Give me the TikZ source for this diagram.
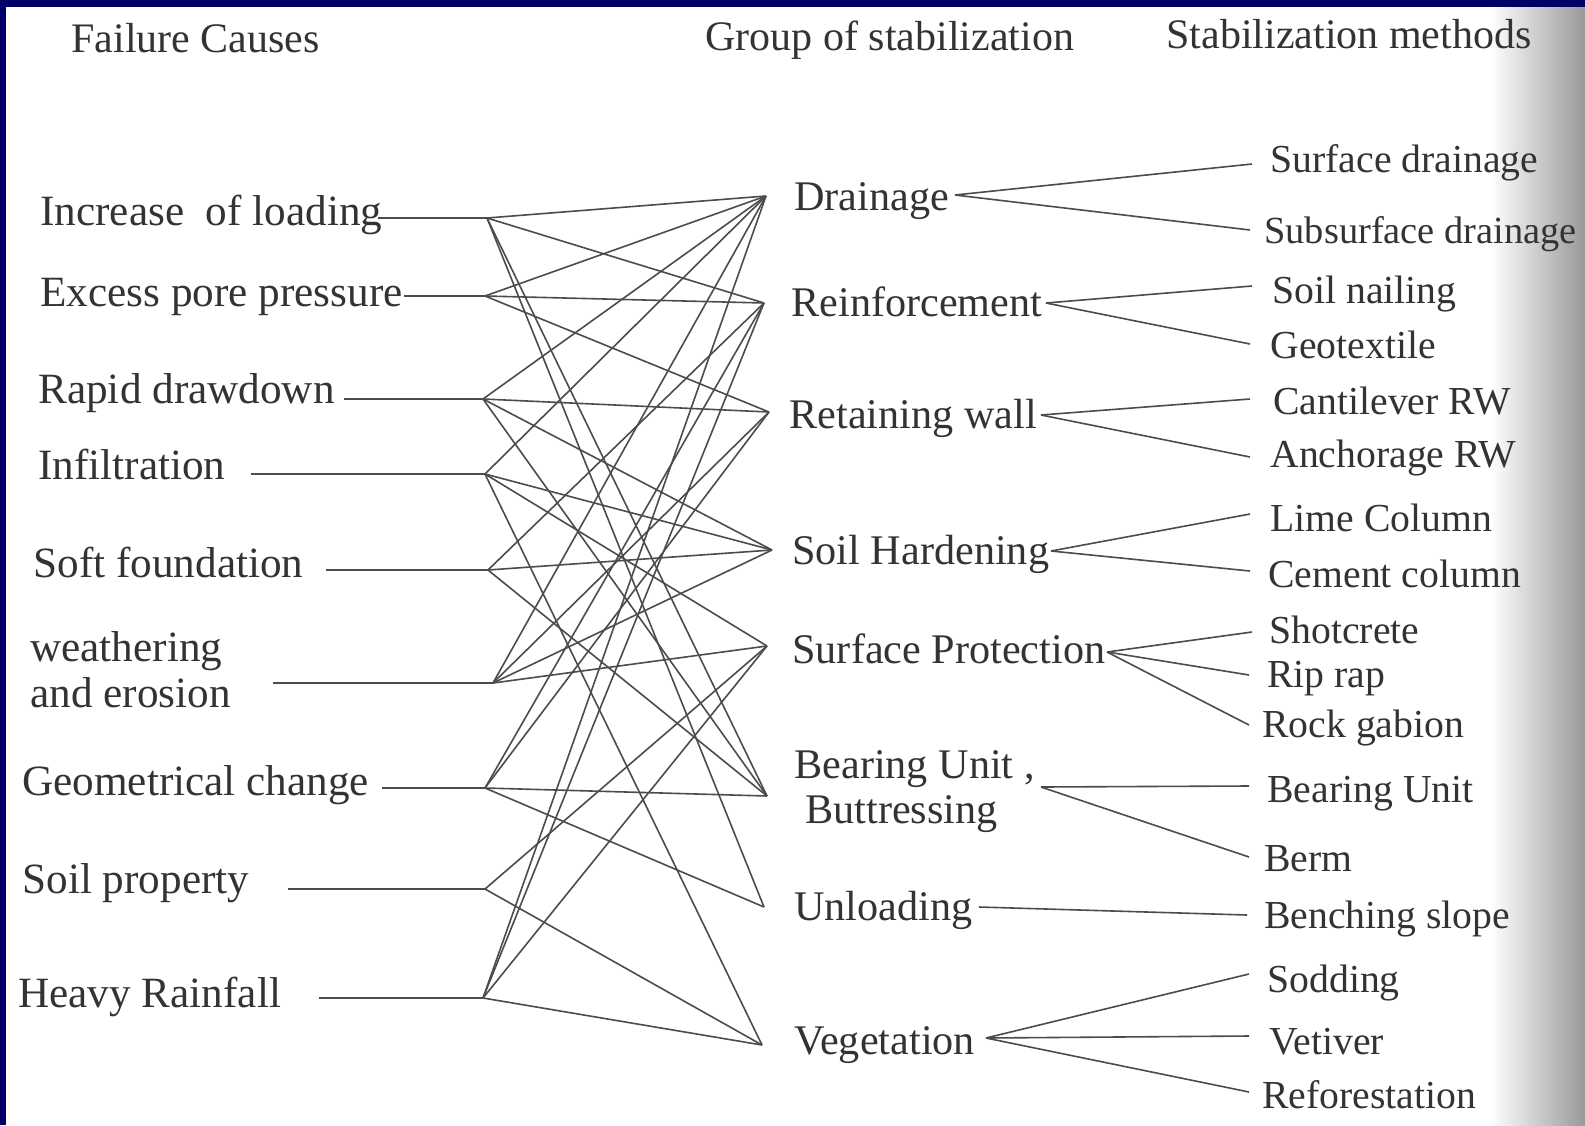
\documentclass[tikz,border=0pt]{standalone}
\usepackage{fontspec}
\setmainfont{Liberation Serif}
\usetikzlibrary{positioning}
\definecolor{frameblue}{HTML}{000066}
\definecolor{ink}{HTML}{333333}
\tikzset{
    head/.style={anchor=base west, inner sep=0pt, text=ink, font=\fontsize{21}{25}\selectfont},
    cause/.style={anchor=base west, inner sep=0pt, text=ink, font=\fontsize{21.6}{26}\selectfont},
    group/.style={anchor=base west, inner sep=0pt, text=ink, font=\fontsize{21.1}{25}\selectfont},
    method/.style={anchor=base west, inner sep=0pt, text=ink, font=\fontsize{19.85}{24}\selectfont},
    link/.style={draw=black!70, line width=0.8pt},
}
\begin{document}
\begin{tikzpicture}[x=0.5pt, y=-0.5pt]
    % frame and page shadow
    \fill[frameblue] (0,0) rectangle (1585,1125);
    \fill[white] (6,7) rectangle (1585,1125);
    \shade[left color=white, right color=black!40] (1490,7) rectangle (1585,1125);
    \useasboundingbox (0,0) rectangle (1585,1125);

    % headings
    \node [head] (hcause) at (71,52) {Failure Causes};
    \node [head] (hgroup) at (705,50) {Group of stabilization};
    \node [head] (hmethod) at (1166,48) {Stabilization methods};

    % failure causes
    \node [cause] (load) at (40,225) {Increase\ \ of loading};
    \node [cause] (pore) at (40,306) {Excess pore pressure};
    \node [cause] (drawdown) at (38,403) {Rapid drawdown};
    \node [cause] (infilt) at (38,479) {Infiltration};
    \node [cause] (softfdn) at (33,577) {Soft foundation};
    \node [cause] (weather) at (30,661) {weathering};
    \node [cause] (erosion) at (30,707) {and erosion};
    \node [cause] (geom) at (22,795) {Geometrical change};
    \node [cause] (soilprop) at (22,893) {Soil property};
    \node [cause] (rain) at (18,1007) {Heavy Rainfall};

    \coordinate (load-s) at (378,218);   \coordinate (load-j) at (487,218);
    \coordinate (pore-s) at (404,296);   \coordinate (pore-j) at (485,296);
    \coordinate (drawdown-s) at (344,399); \coordinate (drawdown-j) at (483,399);
    \coordinate (infilt-s) at (251,474); \coordinate (infilt-j) at (485,474);
    \coordinate (softfdn-s) at (326,570); \coordinate (softfdn-j) at (488,570);
    \coordinate (weather-s) at (273,683); \coordinate (weather-j) at (493,683);
    \coordinate (geom-s) at (382,788);   \coordinate (geom-j) at (485,788);
    \coordinate (soilprop-s) at (288,889); \coordinate (soilprop-j) at (485,889);
    \coordinate (rain-s) at (319,998);   \coordinate (rain-j) at (483,998);

    % groups of stabilization
    \node [group] (drain) at (794,210) {Drainage};
    \node [group] (reinf) at (791,316) {Reinforcement};
    \node [group] (wall) at (789,428) {Retaining wall};
    \node [group] (harden) at (792,564) {Soil Hardening};
    \node [group] (protect) at (792,663) {Surface Protection};
    \node [group] (bearing) at (794,778) {Bearing Unit ,};
    \node [group] (buttress) at (805,823) {Buttressing};
    \node [group] (unload) at (794,920) {Unloading};
    \node [group] (veget) at (794,1054) {Vegetation};

    \coordinate (drain-l) at (766,196);   \coordinate (drain-r) at (955,195);
    \coordinate (reinf-l) at (764,303);   \coordinate (reinf-r) at (1046,303);
    \coordinate (wall-l) at (769,412);    \coordinate (wall-r) at (1041,415);
    \coordinate (harden-l) at (772,550);  \coordinate (harden-r) at (1051,551);
    \coordinate (protect-l) at (767,646); \coordinate (protect-r) at (1107,652);
    \coordinate (bearing-l) at (767,796); \coordinate (bearing-r) at (1041,787);
    \coordinate (unload-l) at (764,907);  \coordinate (unload-r) at (979,907);
    \coordinate (veget-l) at (762,1045);  \coordinate (veget-r) at (986,1038);

    % stabilization methods
    \node [method] (surfdr) at (1270,172) {Surface drainage};
    \node [method, font=\fontsize{19.2}{24}\selectfont] (subdr) at (1264,243) {Subsurface drainage};
    \node [method] (nail) at (1272,303) {Soil nailing};
    \node [method] (geotex) at (1270,358) {Geotextile};
    \node [method] (cantrw) at (1273,414) {Cantilever RW};
    \node [method] (anchrw) at (1270,467) {Anchorage RW};
    \node [method] (lime) at (1270,531) {Lime Column};
    \node [method] (cement) at (1268,587) {Cement column};
    \node [method] (shot) at (1269,643) {Shotcrete};
    \node [method] (riprap) at (1267,687) {Rip rap};
    \node [method] (gabion) at (1262,737) {Rock gabion};
    \node [method] (bunit) at (1267,802) {Bearing Unit};
    \node [method] (berm) at (1264,871) {Berm};
    \node [method] (bench) at (1264,928) {Benching slope};
    \node [method] (sod) at (1267,992) {Sodding};
    \node [method] (vetiver) at (1269,1054) {Vetiver};
    \node [method] (refor) at (1262,1108) {Reforestation};

    \coordinate (surfdr-w) at (1252,164);
    \coordinate (subdr-w) at (1250,230);
    \coordinate (nail-w) at (1252,286);
    \coordinate (geotex-w) at (1250,344);
    \coordinate (cantrw-w) at (1250,399);
    \coordinate (anchrw-w) at (1250,457);
    \coordinate (lime-w) at (1250,514);
    \coordinate (cement-w) at (1250,571);
    \coordinate (shot-w) at (1252,632);
    \coordinate (riprap-w) at (1249,675);
    \coordinate (gabion-w) at (1249,725);
    \coordinate (bunit-w) at (1249,786);
    \coordinate (berm-w) at (1249,857);
    \coordinate (bench-w) at (1247,915);
    \coordinate (sod-w) at (1249,974);
    \coordinate (vetiver-w) at (1249,1036);
    \coordinate (refor-w) at (1249,1092);

    % stubs
    \draw[link] (load-s) -- (load-j);
    \draw[link] (pore-s) -- (pore-j);
    \draw[link] (drawdown-s) -- (drawdown-j);
    \draw[link] (infilt-s) -- (infilt-j);
    \draw[link] (softfdn-s) -- (softfdn-j);
    \draw[link] (weather-s) -- (weather-j);
    \draw[link] (geom-s) -- (geom-j);
    \draw[link] (soilprop-s) -- (soilprop-j);
    \draw[link] (rain-s) -- (rain-j);

    % causes to groups
    \draw[link] (load-j) -- (drain-l);
    \draw[link] (load-j) -- (reinf-l);
    \draw[link] (load-j) -- (bearing-l);
    \draw[link] (load-j) -- (unload-l);
    \draw[link] (pore-j) -- (drain-l);
    \draw[link] (pore-j) -- (reinf-l);
    \draw[link] (pore-j) -- (wall-l);
    \draw[link] (drawdown-j) -- (drain-l);
    \draw[link] (drawdown-j) -- (wall-l);
    \draw[link] (drawdown-j) -- (harden-l);
    \draw[link] (drawdown-j) -- (bearing-l);
    \draw[link] (infilt-j) -- (drain-l);
    \draw[link] (infilt-j) -- (harden-l);
    \draw[link] (infilt-j) -- (protect-l);
    \draw[link] (infilt-j) -- (veget-l);
    \draw[link] (softfdn-j) -- (reinf-l);
    \draw[link] (softfdn-j) -- (harden-l);
    \draw[link] (softfdn-j) -- (bearing-l);
    \draw[link] (weather-j) -- (drain-l);
    \draw[link] (weather-j) -- (wall-l);
    \draw[link] (weather-j) -- (harden-l);
    \draw[link] (weather-j) -- (protect-l);
    \draw[link] (geom-j) -- (reinf-l);
    \draw[link] (geom-j) -- (wall-l);
    \draw[link] (geom-j) -- (bearing-l);
    \draw[link] (geom-j) -- (unload-l);
    \draw[link] (soilprop-j) -- (protect-l);
    \draw[link] (soilprop-j) -- (veget-l);
    \draw[link] (rain-j) -- (drain-l);
    \draw[link] (rain-j) -- (reinf-l);
    \draw[link] (rain-j) -- (protect-l);
    \draw[link] (rain-j) -- (veget-l);

    % groups to methods
    \draw[link] (drain-r) -- (surfdr-w);
    \draw[link] (drain-r) -- (subdr-w);
    \draw[link] (reinf-r) -- (nail-w);
    \draw[link] (reinf-r) -- (geotex-w);
    \draw[link] (wall-r) -- (cantrw-w);
    \draw[link] (wall-r) -- (anchrw-w);
    \draw[link] (harden-r) -- (lime-w);
    \draw[link] (harden-r) -- (cement-w);
    \draw[link] (protect-r) -- (shot-w);
    \draw[link] (protect-r) -- (riprap-w);
    \draw[link] (protect-r) -- (gabion-w);
    \draw[link] (bearing-r) -- (bunit-w);
    \draw[link] (bearing-r) -- (berm-w);
    \draw[link] (unload-r) -- (bench-w);
    \draw[link] (veget-r) -- (sod-w);
    \draw[link] (veget-r) -- (vetiver-w);
    \draw[link] (veget-r) -- (refor-w);
\end{tikzpicture}
\end{document}
